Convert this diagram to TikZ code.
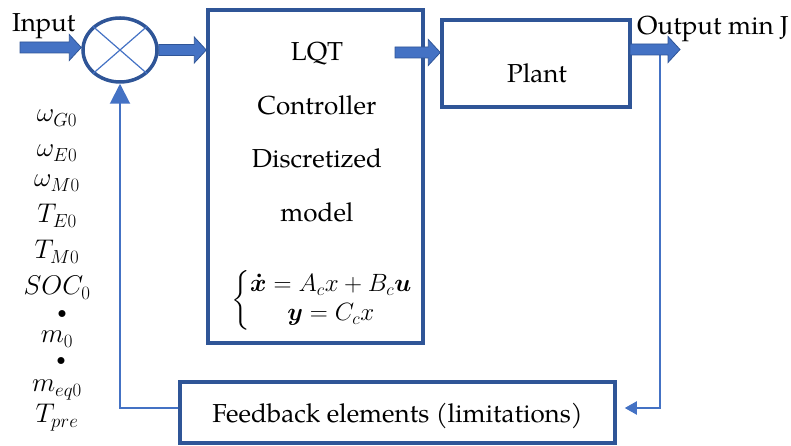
\RequirePackage{fix-cm}
\documentclass[tikz,border=0pt]{standalone}
\usepackage{amsmath}
\usepackage{fontspec}
\setmainfont{TeX Gyre Pagella}
\usetikzlibrary{arrows.meta,calc,shapes.geometric}
\definecolor{boxblue}{HTML}{2F5597}
\definecolor{lineblue}{HTML}{4472C4}
\tikzset{
  blockbox/.style={draw=boxblue, line width=3.5pt, inner sep=0pt},
  txt/.style={font=\fontsize{26}{30}\selectfont, inner sep=0pt, anchor=base},
  lab/.style={font=\fontsize{27}{31}\selectfont, inner sep=0pt, anchor=base},
  eqfont/.style={font=\fontsize{25}{29}\selectfont, inner sep=0pt},
  fbline/.style={draw=lineblue, line width=2pt},
  barrowst/.style={fill=lineblue, draw=boxblue, line width=0.8pt, line join=miter},
}
% horizontal block arrow from #1 to the x of #2, at the height of #1
\newcommand\blockarrow[2]{%
  \filldraw[barrowst] let \p1=#1, \p2=#2 in
    (\x1,\y1-5.5pt) -- (\x2-12pt,\y1-5.5pt) -- (\x2-12pt,\y1-13pt) -- (\x2,\y1)
    -- (\x2-12pt,\y1+13pt) -- (\x2-12pt,\y1+5.5pt) -- (\x1,\y1+5.5pt) -- cycle;}
\begin{document}
\begin{tikzpicture}[x=1pt,y=1pt]
\useasboundingbox (0,0) rectangle (791,446);
% blocks
\node[ellipse, draw=boxblue, line width=3.5pt, minimum width=74pt, minimum height=64pt, inner sep=0pt] (sum) at (120,396) {};
\draw[lineblue, line width=1.2pt] (sum.north west) -- (sum.south east) (sum.north east) -- (sum.south west);
\node[blockbox, minimum width=215pt, minimum height=333pt] (lqt) at (315.5,269.5) {};
\node[blockbox, minimum width=188pt, minimum height=87pt] (plant) at (536,382.5) {};
\node[blockbox, minimum width=435pt, minimum height=61pt] (fb) at (397.5,33.5) {};
% texts
\node[txt, anchor=base west] (input) at (12,414) {Input};
\node[txt, anchor=base west] (output) at (637,411) {Output min J};
\node[txt] (t1) at (317,385) {LQT};
\node[txt] (t2) at (317,331.5) {Controller};
\node[txt] (t3) at (317,278) {Discretized};
\node[txt] (t4) at (317,224) {model};
\node[eqfont] (eq) at (322,146) {$\left\{\begin{array}{@{}c@{}}
  \boldsymbol{\dot{x}} = A_c x + B_c \boldsymbol{u}\\
  \boldsymbol{y} = C_c x\end{array}\right.$};
\node[txt] (tp) at (537,363) {Plant};
\node[txt] (tf) at (397.5,23) {Feedback elements (limitations)};
% initial values
\node[lab] (l1) at (57,324) {$\omega_{G0}$};
\node[lab] (l2) at (57,289) {$\omega_{E0}$};
\node[lab] (l3) at (57,259) {$\omega_{M0}$};
\node[lab] (l4) at (57,223) {$T_{E0}$};
\node[lab] (l5) at (57,187) {$T_{M0}$};
\node[lab] (l6) at (57,151) {$SOC_0$};
\node[lab] (l7) at (57,103) {$m_0$};
\node[lab] (l8) at (57,54) {$m_{eq0}$};
\node[lab] (l9) at (57,23) {$T_{pre}$};
\node[inner sep=0pt, font=\fontsize{18}{22}\selectfont] (d1) at (62,131) {$\bullet$};
\node[inner sep=0pt, font=\fontsize{18}{22}\selectfont] (d2) at (61,84) {$\bullet$};
% connector coordinates
\coordinate (instart) at (20,398.5);
\coordinate (lqtout) at (395,393.5);
\coordinate (pout) at (630,396.5);
\coordinate (outtip) at (680,396.5);
\coordinate (tap) at (660,396.5);
% feedback lines
\draw[fbline, -{Triangle[length=12pt,width=13pt]}] (tap) |- ($(fb.east)+(8,4.5)$);
\draw[fbline, -{Triangle[length=20pt,width=20pt]}] ($(fb.west)+(0,4.5)$) -| (sum.south);
% block arrows
\blockarrow{(instart)}{(sum.west)}
\blockarrow{(sum.east)}{(lqt.west)}
\blockarrow{(lqtout)}{(plant.west)}
\blockarrow{(pout)}{(outtip)}
\end{tikzpicture}
\end{document}
